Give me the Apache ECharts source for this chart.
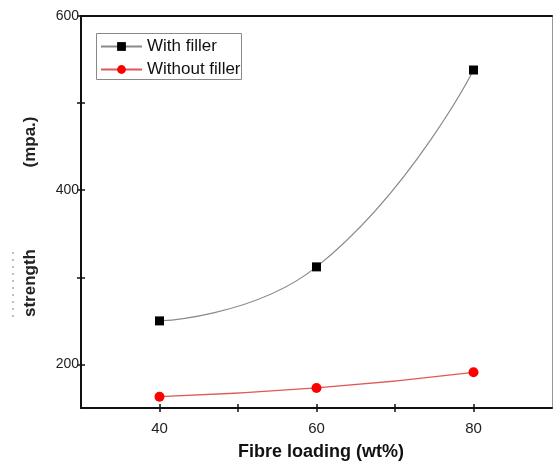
<!DOCTYPE html>
<html>
<head>
<meta charset="utf-8">
<script src="https://cdn.jsdelivr.net/npm/echarts@6/dist/echarts.min.js"></script>
<style>
  html, body { margin: 0; padding: 0; background: #fff; }
  #chart { width: 553px; height: 463px; }
</style>
</head>
<body>
<div id="chart"></div>
<script>
// Fibre loading (wt%) on the x axis
const fibreLoading = [40, 60, 80];
// Strength (mpa.) for each composite
const withFiller = [250, 312, 538];
const withoutFiller = [163, 173, 191];

// Axis ticks and labelled values
const xTickValues = [40, 50, 60, 70, 80];
const xLabelValues = [40, 60, 80];
const yTickValues = [200, 300, 400, 500, 600];
const yLabelValues = [200, 400, 600];

const pairs = (xs, ys) => xs.map((x, i) => [x, ys[i]]);

const FONT = '"Liberation Sans", Arial, sans-serif';
const chart = echarts.init(document.getElementById('chart'), null, { renderer: 'canvas' });

const hiddenAxisParts = {
  axisLabel: { show: false },
  splitLine: { show: false }
};

chart.setOption({
  animation: false,
  backgroundColor: '#ffffff',
  grid: { left: 81, right: 1, top: 16, bottom: 55 },
  legend: {
    orient: 'vertical',
    left: 95,
    top: 34,
    padding: [4, 0, 2, 5],
    itemGap: 6,
    itemWidth: 41,
    itemHeight: 11,
    textStyle: { fontFamily: FONT, fontSize: 17, color: '#111' },
    data: ['With filler', 'Without filler']
  },
  xAxis: [
    {
      type: 'value', position: 'bottom', min: 30, max: 90, interval: 10,
      axisLine: { lineStyle: { color: '#111', width: 2 } },
      axisTick: { customValues: xTickValues, length: 4, lineStyle: { color: '#111', width: 1.5 } },
      axisLabel: { customValues: xLabelValues, fontFamily: FONT, fontSize: 15, color: '#222', margin: 13 },
      splitLine: { show: false }
    },
    {
      type: 'value', position: 'bottom', min: 30, max: 90, interval: 10,
      axisLine: { show: false },
      axisTick: { customValues: xTickValues, inside: true, length: 4, lineStyle: { color: '#111', width: 1.5 } },
      ...hiddenAxisParts
    },
    {
      type: 'value', position: 'top', min: 30, max: 90, interval: 10,
      axisLine: { lineStyle: { color: '#111', width: 2 } },
      axisTick: { show: false },
      ...hiddenAxisParts
    }
  ],
  yAxis: [
    {
      type: 'value', position: 'left', min: 150, max: 600, interval: 50,
      axisLine: { lineStyle: { color: '#111', width: 2 } },
      axisTick: { customValues: yTickValues, length: 4, lineStyle: { color: '#111', width: 1.5 } },
      axisLabel: { customValues: yLabelValues, fontFamily: FONT, fontSize: 14, color: '#222', margin: 2 },
      splitLine: { show: false }
    },
    {
      type: 'value', position: 'left', min: 150, max: 600, interval: 50,
      axisLine: { show: false },
      axisTick: { customValues: yTickValues, inside: true, length: 4, lineStyle: { color: '#111', width: 1.5 } },
      ...hiddenAxisParts
    },
    {
      type: 'value', position: 'right', min: 150, max: 600, interval: 50,
      axisLine: { lineStyle: { color: '#999', width: 1 } },
      axisTick: { show: false },
      ...hiddenAxisParts
    }
  ],
  graphic: [
    {
      type: 'rect',
      shape: { x: 96.5, y: 33.5, width: 145, height: 46 },
      style: { fill: 'none', stroke: '#888', lineWidth: 1 },
      z: 10
    },
    {
      type: 'text', x: 30, y: 142, rotation: Math.PI / 2,
      style: { text: '(mpa.)', font: 'bold 17px ' + FONT, fill: '#222', align: 'center', verticalAlign: 'middle' }
    },
    {
      type: 'text', x: 30, y: 283, rotation: Math.PI / 2,
      style: { text: 'strength', font: 'bold 17px ' + FONT, fill: '#222', align: 'center', verticalAlign: 'middle' }
    },
    {
      type: 'line',
      shape: { x1: 13, y1: 252, x2: 13, y2: 318 },
      style: { stroke: '#aaa', lineWidth: 1.5, lineDash: [2, 5] }
    },
    {
      type: 'text', x: 321, y: 452,
      style: { text: 'Fibre loading (wt%)', font: 'bold 18px ' + FONT, fill: '#111', align: 'center', verticalAlign: 'middle' }
    }
  ],
  series: [
    {
      name: 'With filler',
      type: 'line',
      smooth: true,
      xAxisIndex: 0, yAxisIndex: 0,
      data: pairs(fibreLoading, withFiller),
      symbol: 'rect',
      symbolSize: 9,
      lineStyle: { color: '#8a8a8a', width: 1.2 },
      itemStyle: { color: '#000' },
      z: 3
    },
    {
      name: 'Without filler',
      type: 'line',
      smooth: true,
      xAxisIndex: 0, yAxisIndex: 0,
      data: pairs(fibreLoading, withoutFiller),
      symbol: 'circle',
      symbolSize: 10,
      lineStyle: { color: '#e05858', width: 1.2 },
      itemStyle: { color: '#ff0000' },
      z: 3
    }
  ]
});
</script>
</body>
</html>
